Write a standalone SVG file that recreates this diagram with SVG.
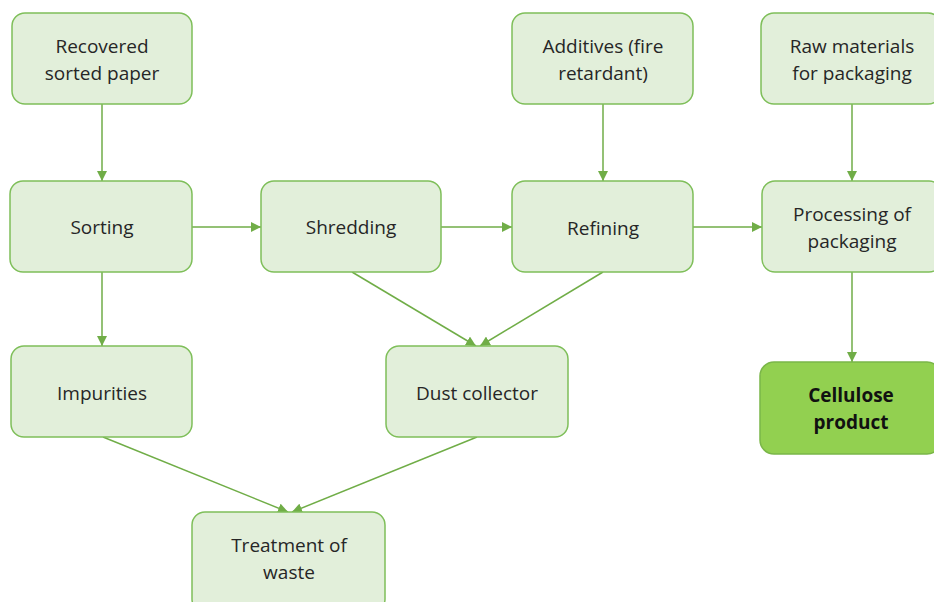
<svg xmlns="http://www.w3.org/2000/svg" width="934" height="602" viewBox="0 0 934 602">
<defs>
<marker id="ah" viewBox="0 0 10 10" refX="10" refY="5" markerWidth="10" markerHeight="10" markerUnits="userSpaceOnUse" orient="auto">
<path d="M0,0 L10,5 L0,10 z" fill="#70ad47"/>
</marker>
<style>
.n rect{fill:#e2efda;stroke:#7fbf5a;stroke-width:1.5}
.n text{font-family:"Open Sans","Liberation Sans",sans-serif;font-size:19px;fill:#262626;text-anchor:middle}
.f rect{fill:#92d050;stroke:#7ab648;stroke-width:1.5}
.f text{font-family:"Open Sans","Liberation Sans",sans-serif;font-size:19px;font-weight:bold;fill:#111;text-anchor:middle}
.c line{stroke:#70ad47;stroke-width:1.5;marker-end:url(#ah)}
</style>
</defs>
<rect width="934" height="602" fill="#fff"/>
<g class="c" id="connectors">
<line x1="102" y1="104" x2="102" y2="181"/>
<line x1="192" y1="227" x2="261" y2="227"/>
<line x1="441" y1="227" x2="512" y2="227"/>
<line x1="693" y1="227" x2="762" y2="227"/>
<line x1="603" y1="104" x2="603" y2="181"/>
<line x1="852" y1="104" x2="852" y2="181"/>
<line x1="102" y1="272" x2="102" y2="346"/>
<line x1="352" y1="272" x2="476" y2="346"/>
<line x1="603" y1="272" x2="480" y2="346"/>
<line x1="852" y1="272" x2="852" y2="362"/>
<line x1="103" y1="437" x2="288" y2="512"/>
<line x1="477" y1="437" x2="292" y2="512"/>
</g>
<g class="n" id="recovered"><rect x="12" y="13" width="180" height="91" rx="13"/><text x="102" y="53">Recovered</text><text x="102" y="80">sorted paper</text></g>
<g class="n" id="additives"><rect x="512" y="13" width="181" height="91" rx="13"/><text x="603" y="53">Additives (fire</text><text x="603" y="80">retardant)</text></g>
<g class="n" id="raw"><rect x="761" y="13" width="180" height="91" rx="13"/><text x="852" y="53">Raw materials</text><text x="852" y="80">for packaging</text></g>
<g class="n" id="sorting"><rect x="10" y="181" width="182" height="91" rx="13"/><text x="102" y="234">Sorting</text></g>
<g class="n" id="shredding"><rect x="261" y="181" width="180" height="91" rx="13"/><text x="351" y="234">Shredding</text></g>
<g class="n" id="refining"><rect x="512" y="181" width="181" height="91" rx="13"/><text x="603" y="235">Refining</text></g>
<g class="n" id="processing"><rect x="762" y="181" width="180" height="91" rx="13"/><text x="852" y="221">Processing of</text><text x="852" y="248">packaging</text></g>
<g class="n" id="impurities"><rect x="11" y="346" width="181" height="91" rx="13"/><text x="102" y="400">Impurities</text></g>
<g class="n" id="dust"><rect x="386" y="346" width="182" height="91" rx="13"/><text x="477" y="400">Dust collector</text></g>
<g class="f" id="cellulose"><rect x="760" y="362" width="181" height="92" rx="14"/><text x="851" y="402">Cellulose</text><text x="851" y="429">product</text></g>
<g class="n" id="treatment"><rect x="192" y="512" width="193" height="100" rx="13"/><text x="289" y="552">Treatment of</text><text x="289" y="579">waste</text></g>
</svg>
